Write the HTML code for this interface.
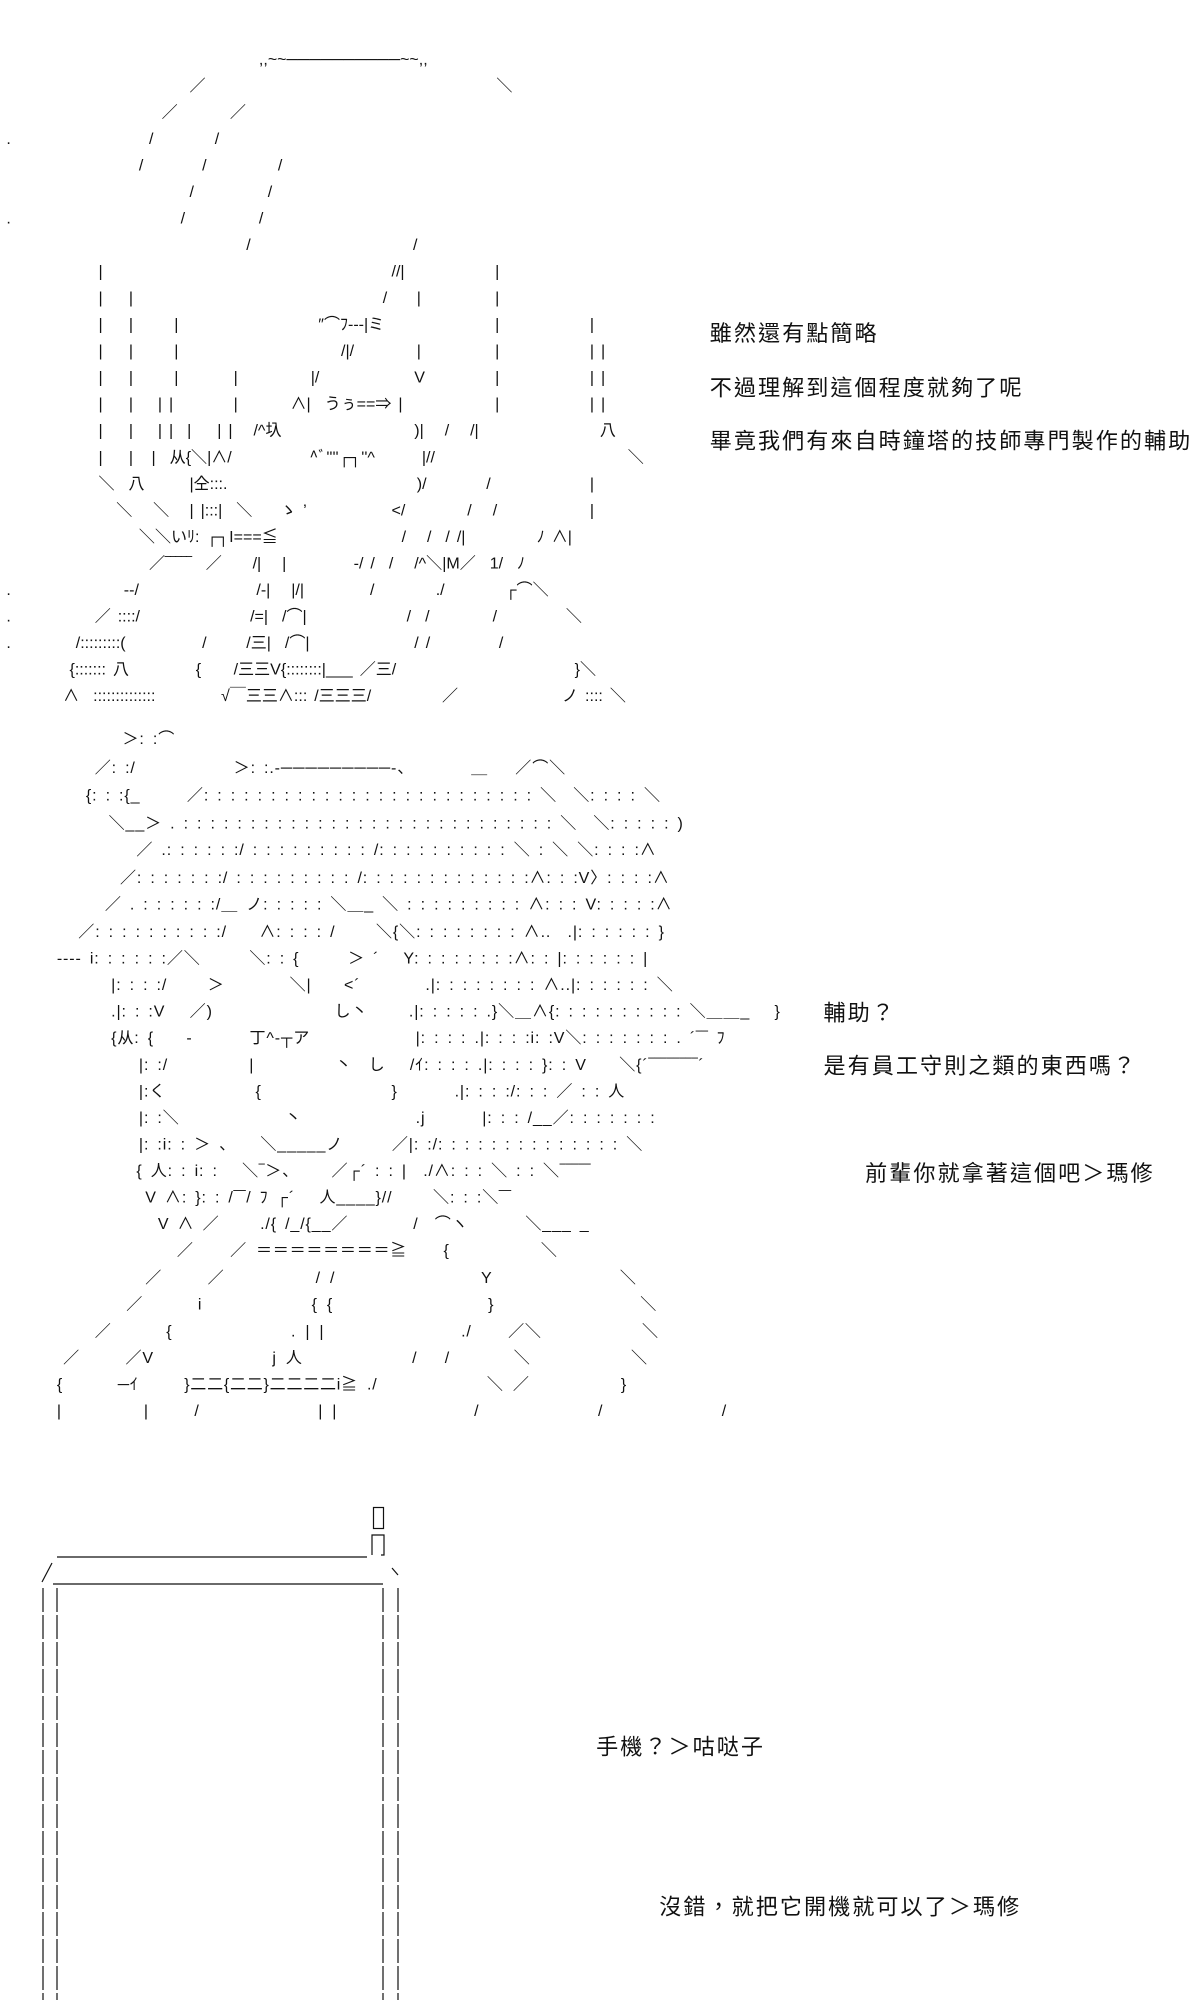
<!DOCTYPE html>
<html><head><meta charset="utf-8">
<style>
html,body{margin:0;padding:0;background:#fff;}
body{width:1200px;height:2000px;position:relative;overflow:hidden;}
#s{position:absolute;left:0;top:0;width:950px;height:1584px;transform:scale(1.263);transform-origin:0 0;}
#s i{position:absolute;font-style:normal;white-space:pre;font-family:"Liberation Sans","Noto Sans CJK JP",sans-serif;font-size:12.7px;line-height:14px;color:#111;word-spacing:2px;}
#s .f2 i{letter-spacing:0.7px;word-spacing:2.2px;}
#s .f3 i{letter-spacing:0.6px;word-spacing:3.1px;}
#s b{position:absolute;font-weight:normal;white-space:pre;font-family:"Liberation Sans","Noto Sans CJK TC",sans-serif;font-size:17.5px;line-height:20px;color:#111;letter-spacing:1.6px;}
svg{position:absolute;left:0;top:0;}
</style></head><body>
<div id="s">
<i style="left:205px;top:40px">,,~~──────────~~,,</i>
<i style="left:150px;top:61px">／</i><i style="left:393px;top:61px">＼</i>
<i style="left:128px;top:82px">／</i><i style="left:182px;top:82px">／</i>
<i style="left:118px;top:103px">/</i><i style="left:170px;top:103px">/</i><i style="left:5px;top:103px">.</i>
<i style="left:110px;top:124px">/</i><i style="left:160px;top:124px">/</i><i style="left:220px;top:124px">/</i>
<i style="left:150px;top:145px">/</i><i style="left:212px;top:145px">/</i>
<i style="left:143px;top:166px">/</i><i style="left:205px;top:166px">/</i><i style="left:5px;top:166px">.</i>
<i style="left:195px;top:187px">/</i><i style="left:327px;top:187px">/</i>
<i style="left:78px;top:208px">|</i><i style="left:310px;top:208px">//|</i><i style="left:392px;top:208px">|</i>
<i style="left:78px;top:229px">|</i><i style="left:102px;top:229px">|</i><i style="left:303px;top:229px">/</i><i style="left:330px;top:229px">|</i><i style="left:392px;top:229px">|</i>
<i style="left:78px;top:250px">|</i><i style="left:102px;top:250px">|</i><i style="left:138px;top:250px">|</i><i style="left:252px;top:250px">″⌒ﾌ‐‐‐|ミ</i><i style="left:392px;top:250px">|</i><i style="left:467px;top:250px">|</i>
<i style="left:78px;top:271px">|</i><i style="left:102px;top:271px">|</i><i style="left:138px;top:271px">|</i><i style="left:270px;top:271px">/|/</i><i style="left:330px;top:271px">|</i><i style="left:392px;top:271px">|</i><i style="left:467px;top:271px">| |</i>
<i style="left:78px;top:292px">|</i><i style="left:102px;top:292px">|</i><i style="left:138px;top:292px">|</i><i style="left:185px;top:292px">|</i><i style="left:246px;top:292px">|/</i><i style="left:328px;top:292px">V</i><i style="left:392px;top:292px">|</i><i style="left:467px;top:292px">| |</i>
<i style="left:78px;top:313px">|</i><i style="left:102px;top:313px">|</i><i style="left:125px;top:313px">| |</i><i style="left:185px;top:313px">|</i><i style="left:230px;top:313px">∧|  うぅ==⇒ |</i><i style="left:392px;top:313px">|</i><i style="left:467px;top:313px">| |</i>
<i style="left:78px;top:334px">|</i><i style="left:102px;top:334px">|</i><i style="left:125px;top:334px">| |  |</i><i style="left:172px;top:334px">| |   /^圦</i><i style="left:328px;top:334px">)|   /   /|</i><i style="left:475px;top:334px">八</i>
<i style="left:78px;top:355px">|</i><i style="left:102px;top:355px">|</i><i style="left:120px;top:355px">|  从{＼|∧/</i><i style="left:245px;top:355px">^ﾞ''''┌┐''^</i><i style="left:334px;top:355px">|//</i><i style="left:497px;top:355px">＼</i>
<i style="left:78px;top:376px">＼  八</i><i style="left:150px;top:376px">|仝:::.</i><i style="left:330px;top:376px">)/</i><i style="left:385px;top:376px">/</i><i style="left:467px;top:376px">|</i>
<i style="left:92px;top:397px">＼   ＼</i><i style="left:150px;top:397px">| |:::|  ＼    ゝ ’</i><i style="left:310px;top:397px">&lt;/</i><i style="left:370px;top:397px">/   /</i><i style="left:467px;top:397px">|</i>
<i style="left:110px;top:418px">＼＼いﾘ: ┌┐I===≦</i><i style="left:318px;top:418px">/   /  / /|</i><i style="left:425px;top:418px">ﾉ ∧|</i>
<i style="left:118px;top:439px">／‾‾‾‾‾  ／</i><i style="left:200px;top:439px">/|   |</i><i style="left:280px;top:439px">‐/ /  /   /^＼|M／  1/  ﾉ</i>
<i style="left:98px;top:460px">--/</i><i style="left:203px;top:460px">/-|   |/|</i><i style="left:293px;top:460px">/</i><i style="left:345px;top:460px">./</i><i style="left:400px;top:460px">┌⌒＼</i><i style="left:5px;top:460px">.</i>
<i style="left:75px;top:481px">／ ::::/</i><i style="left:198px;top:481px">/=|  /⌒|</i><i style="left:322px;top:481px">/  /</i><i style="left:390px;top:481px">/</i><i style="left:448px;top:481px">＼</i><i style="left:5px;top:481px">.</i>
<i style="left:60px;top:502px">/:::::::::(</i><i style="left:160px;top:502px">/</i><i style="left:195px;top:502px">/三|  /⌒|</i><i style="left:328px;top:502px">/ /</i><i style="left:395px;top:502px">/</i><i style="left:5px;top:502px">.</i>
<i style="left:55px;top:523px">{::::::: 八</i><i style="left:155px;top:523px">{</i><i style="left:185px;top:523px">/三三V{::::::::|___ ／三/</i><i style="left:455px;top:523px">}＼</i>
<i style="left:50px;top:544px">∧  ::::::::::::::</i><i style="left:175px;top:544px">√￣三三∧::: /三三三/</i><i style="left:350px;top:544px">／</i><i style="left:445px;top:544px">ノ :::: ＼</i>

<div class="f2">
<i style="left:97px;top:578px">＞: :⌒</i>
<i style="left:75px;top:601px">／: :/</i><i style="left:185px;top:601px">＞: :.-─────────-、</i><i style="left:373px;top:601px">＿</i><i style="left:408px;top:601px">／⌒＼</i>
<i style="left:68px;top:623px">{: : :{_</i><i style="left:148px;top:623px">／: : : : : : : : : : : : : : : : : : : : : : : : : ＼  ＼: : : : ＼</i>
<i style="left:86px;top:645px">＼__＞ . : : : : : : : : : : : : : : : : : : : : : : : : : : : : ＼  ＼: : : : : )</i>
<i style="left:108px;top:666px">／ .: : : : : :/ : : : : : : : : : /: : : : : : : : : : ＼ : ＼ ＼: : : :∧</i>
<i style="left:95px;top:688px">／: : : : : : :/ : : : : : : : : : /: : : : : : : : : : : : :∧: : :V〉: : : :∧</i>
<i style="left:83px;top:709px">／ . : : : : : :/＿ ノ: : : : : ＼＿_ ＼ : : : : : : : : : ∧: : : V: : : : :∧</i>
<i style="left:62px;top:731px">／: : : : : : : : : :/    ∧: : : : /     ＼{＼: : : : : : : : ∧..  .|: : : : : : }</i>
<i style="left:45px;top:752px">‐‐‐‐ i: : : : : :／＼      ＼: : {      ＞ ´   Y: : : : : : : :∧: : |: : : : : : |</i>
<i style="left:88px;top:773px">|: : : :/     ＞        ＼|    &lt;´        .|: : : : : : : : ∧..|: : : : : : ＼</i>
<i style="left:88px;top:794px">.|: : :V   ／)               し丶     .|: : : : : .}＼＿∧{: : : : : : : : : : ＼＿＿_   }</i>
<i style="left:88px;top:815px">{从: {    ‐       丁^‐┬ア             |: : : : .|: : : :i: :V＼: : : : : : : . ´‾‾ ﾌ</i>
<i style="left:110px;top:836px">|: :/          |          丶  し   /ｲ: : : : .|: : : : }: : V    ＼{´‾‾‾‾‾‾‾‾´</i>
<i style="left:110px;top:857px">|:く           {                }       .|: : : :/: : : ／ : : 人</i>
<i style="left:110px;top:878px">|: :＼             丶              .j       |: : : /__／: : : : : : :</i>
<i style="left:110px;top:899px">|: :i: : ＞ 、   ＼_____ノ      ／|: :/: : : : : : : : : : : : : : ＼</i>
<i style="left:108px;top:920px">{ 人: : i: :   ＼‾＞、    ／┌´ : : |  ./∧: : : ＼ : : ＼‾‾‾‾‾</i>
<i style="left:115px;top:941px">V ∧: }: : /‾‾/ ﾌ ┌´   人____}//     ＼: : :＼‾‾</i>
<i style="left:125px;top:962px">V ∧ ／     ./{ /_/{__／        /  ⌒ヽ       ＼___ _</i>
</div>
<div class="f3">
<i style="left:140px;top:983px">／    ／ ＝＝＝＝＝＝＝＝≧    {          ＼</i>
<i style="left:115px;top:1005px">／     ／          / /                Y              ＼</i>
<i style="left:100px;top:1026px">／      i            { {                 }                ＼</i>
<i style="left:75px;top:1047px">／      {             . | |               ./    ／＼           ＼</i>
<i style="left:50px;top:1068px">／     ／V             j 人            /   /       ＼           ＼</i>
<i style="left:45px;top:1089px">{      ─ｲ     }二二{二二}二二二二i≧ ./            ＼ ／          }</i>
<i style="left:45px;top:1110px">|         |     /             | |               /             /             /</i>
</div>

<b style="left:562px;top:254px">雖然還有點簡略</b>
<b style="left:562px;top:297px">不過理解到這個程度就夠了呢</b>
<b style="left:562px;top:339px">畢竟我們有來自時鐘塔的技師專門製作的輔助</b>
<b style="left:652px;top:792px">輔助？</b>
<b style="left:652px;top:834px">是有員工守則之類的東西嗎？</b>
<b style="left:685px;top:919px">前輩你就拿著這個吧＞瑪修</b>
<b style="left:472px;top:1373px">手機？＞咕哒子</b>
<b style="left:522px;top:1500px">沒錯，就把它開機就可以了＞瑪修</b>
</div>
<svg width="1200" height="2000" viewBox="0 0 1200 2000">
<g stroke="#111" stroke-width="1.2" fill="none">
<rect x="373.5" y="1507.5" width="10" height="21"/>
<path d="M372 1555 V1535 H384 V1555 H381"/>
<line x1="57" y1="1557" x2="367" y2="1557"/>
<line x1="53" y1="1584" x2="383" y2="1584"/>
<line x1="52" y1="1563" x2="42" y2="1582"/>
<line x1="392" y1="1568" x2="398" y2="1575"/>
<line x1="43" y1="1588" x2="43" y2="2000" stroke-dasharray="24 3"/>
<line x1="57" y1="1588" x2="57" y2="2000" stroke-dasharray="24 3"/>
<line x1="383" y1="1588" x2="383" y2="2000" stroke-dasharray="24 3"/>
<line x1="398" y1="1588" x2="398" y2="2000" stroke-dasharray="24 3"/>
</g>
</svg>
</body></html>
